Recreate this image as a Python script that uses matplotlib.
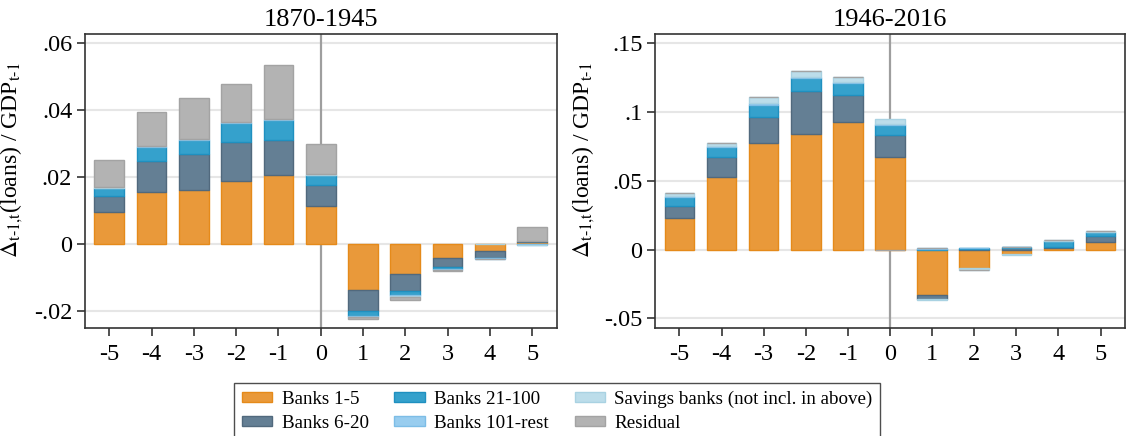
import matplotlib
matplotlib.use("Agg")
import matplotlib.pyplot as plt
from matplotlib.patches import Patch
import numpy as np

plt.rcParams["font.family"] = ["Liberation Serif", "DejaVu Serif"]
plt.rcParams["mathtext.fontset"] = "stix"

# Event-time horizon (years relative to crisis)
years = [-5, -4, -3, -2, -1, 0, 1, 2, 3, 4, 5]
xtick_labels = ["-5", "-4", "-3", "-2", "-1", "0", "1", "2", "3", "4", "5"]

series_names = ["Banks 1-5", "Banks 6-20", "Banks 21-100", "Banks 101-rest",
                "Savings banks (not incl. in above)", "Residual"]

# 1870-1945 contributions to change in loans / GDP
early_b1_5 = [0.0096, 0.0156, 0.0162, 0.0189, 0.0205, 0.0114, -0.0137, -0.0090, -0.0042, -0.0020, 0.0006]
early_b6_20 = [0.0047, 0.0092, 0.0107, 0.0115, 0.0107, 0.0063, -0.0064, -0.0051, -0.0027, -0.0022, 0.0003]
early_b21_100 = [0.0024, 0.0042, 0.0042, 0.0059, 0.0060, 0.0029, -0.0013, -0.0012, -0.0006, -0.0001, 0.0001]
early_b101 = [0.0002, 0.0002, 0.0002, 0.0002, 0.0002, 0.0001, -0.0003, -0.0003, -0.0002, -0.0001, -0.0002]
early_savings = [0.0001, 0.0001, 0.0001, 0.0001, 0.0001, 0.0001, -0.0002, -0.0003, -0.0001, 0.0000, -0.0001]
early_residual = [0.0081, 0.0102, 0.0122, 0.0113, 0.0160, 0.0091, -0.0004, -0.0007, -0.0002, -0.0001, 0.0040]

# 1946-2016 contributions
late_b1_5 = [0.0233, 0.0528, 0.0773, 0.0839, 0.0926, 0.0671, -0.0330, -0.0131, -0.0034, 0.0010, 0.0058]
late_b6_20 = [0.0087, 0.0146, 0.0189, 0.0312, 0.0196, 0.0163, -0.0029, 0.0006, 0.0015, 0.0012, 0.0044]
late_b21_100 = [0.0061, 0.0070, 0.0092, 0.0095, 0.0088, 0.0073, 0.0008, 0.0004, 0.0003, 0.0041, 0.0026]
late_b101 = [0.0012, 0.0007, 0.0010, 0.0012, 0.0012, 0.0008, 0.0003, 0.0002, 0.0001, 0.0003, 0.0003]
late_savings = [0.0017, 0.0027, 0.0044, 0.0039, 0.0031, 0.0033, -0.0009, -0.0014, -0.0007, 0.0004, 0.0005]
late_residual = [0.0000, 0.0000, 0.0000, 0.0000, 0.0000, -0.0006, 0.0000, -0.0003, 0.0000, 0.0000, 0.0000]

early_ticks = [-0.02, 0.0, 0.02, 0.04, 0.06]
early_ticklabels = ["-.02", "0", ".02", ".04", ".06"]
late_ticks = [-0.05, 0.0, 0.05, 0.10, 0.15]
late_ticklabels = ["-.05", "0", ".05", ".1", ".15"]

fills = ["#E9993A", "#647F94", "#35A1CC", "#98CDEF", "#BCDDEA", "#B3B3B3"]
edges = ["#E58A1A", "#51697D", "#1F90C0", "#7DBDE6", "#A9D2E2", "#A3A3A3"]

W, H = 1126, 436
fig = plt.figure(figsize=(W / 100, H / 100), dpi=100)
ax1 = fig.add_axes([84.7 / W, 108.3 / H, 472 / W, 293.7 / H])
ax2 = fig.add_axes([655 / W, 108.3 / H, 470 / W, 293.7 / H])


def draw_panel(ax, comps, title, ticks, ticklabels, ylim):
    x = np.array(years, dtype=float)
    pos_base = np.zeros(len(x))
    neg_base = np.zeros(len(x))
    for vals, fc, ec in zip(comps, fills, edges):
        v = np.array(vals)
        base = np.where(v >= 0, pos_base, neg_base)
        ax.bar(x, v, width=0.7, bottom=base, color=fc, edgecolor=ec,
               linewidth=1.0, zorder=3)
        pos_base = pos_base + np.where(v > 0, v, 0)
        neg_base = neg_base + np.where(v < 0, v, 0)
    ax.axvline(0, color="#9E9E9E", linewidth=1.6, zorder=2)
    ax.set_xlim(-5.58, 5.58)
    ax.set_ylim(*ylim)
    ax.set_yticks(ticks)
    ax.set_yticklabels(ticklabels)
    ax.set_xticks(years)
    ax.set_xticklabels(xtick_labels)
    ax.grid(axis="y", color="#E6E6E6", linewidth=1.5, zorder=0)
    ax.set_axisbelow(True)
    ax.tick_params(axis="both", labelsize=17.5, length=6, width=1.1,
                   color="#222222", direction="out", pad=3)
    ax.tick_params(axis="x", pad=6)
    for sp in ax.spines.values():
        sp.set_color("#333333")
        sp.set_linewidth(1.2)
    ax.set_title(title, fontsize=19, pad=6)
    ax.set_ylabel(r"$\mathit{\Delta}_{\text{t-1,t}}$(loans) / GDP$_{\text{t-1}}$",
                  fontsize=17)


draw_panel(ax1, [early_b1_5, early_b6_20, early_b21_100, early_b101, early_savings, early_residual],
           "1870-1945", early_ticks, early_ticklabels, (-0.025, 0.0628))
draw_panel(ax2, [late_b1_5, late_b6_20, late_b21_100, late_b101, late_savings, late_residual],
           "1946-2016", late_ticks, late_ticklabels, (-0.0568, 0.1568))
ax1.yaxis.set_label_coords(-0.126, 0.57)
ax2.yaxis.set_label_coords(-0.123, 0.57)

# Legend fills column by column: 1-5 / 6-20, 21-100 / 101-rest, savings / residual
handles = [Patch(facecolor=fills[i], edgecolor=edges[i], linewidth=1.0) for i in range(6)]
leg = fig.legend(handles=handles, labels=series_names,
                 ncol=3, loc="upper left", bbox_to_anchor=(234 / W, 1 - 383 / H),
                 fontsize=13.7, frameon=True, fancybox=False, edgecolor="#222222",
                 handlelength=1.6, handleheight=0.45, handletextpad=0.5,
                 columnspacing=1.35, labelspacing=0.38, borderpad=0.4,
                 borderaxespad=0)
leg.get_frame().set_linewidth(1.0)

fig.savefig("out.png", dpi=100)
